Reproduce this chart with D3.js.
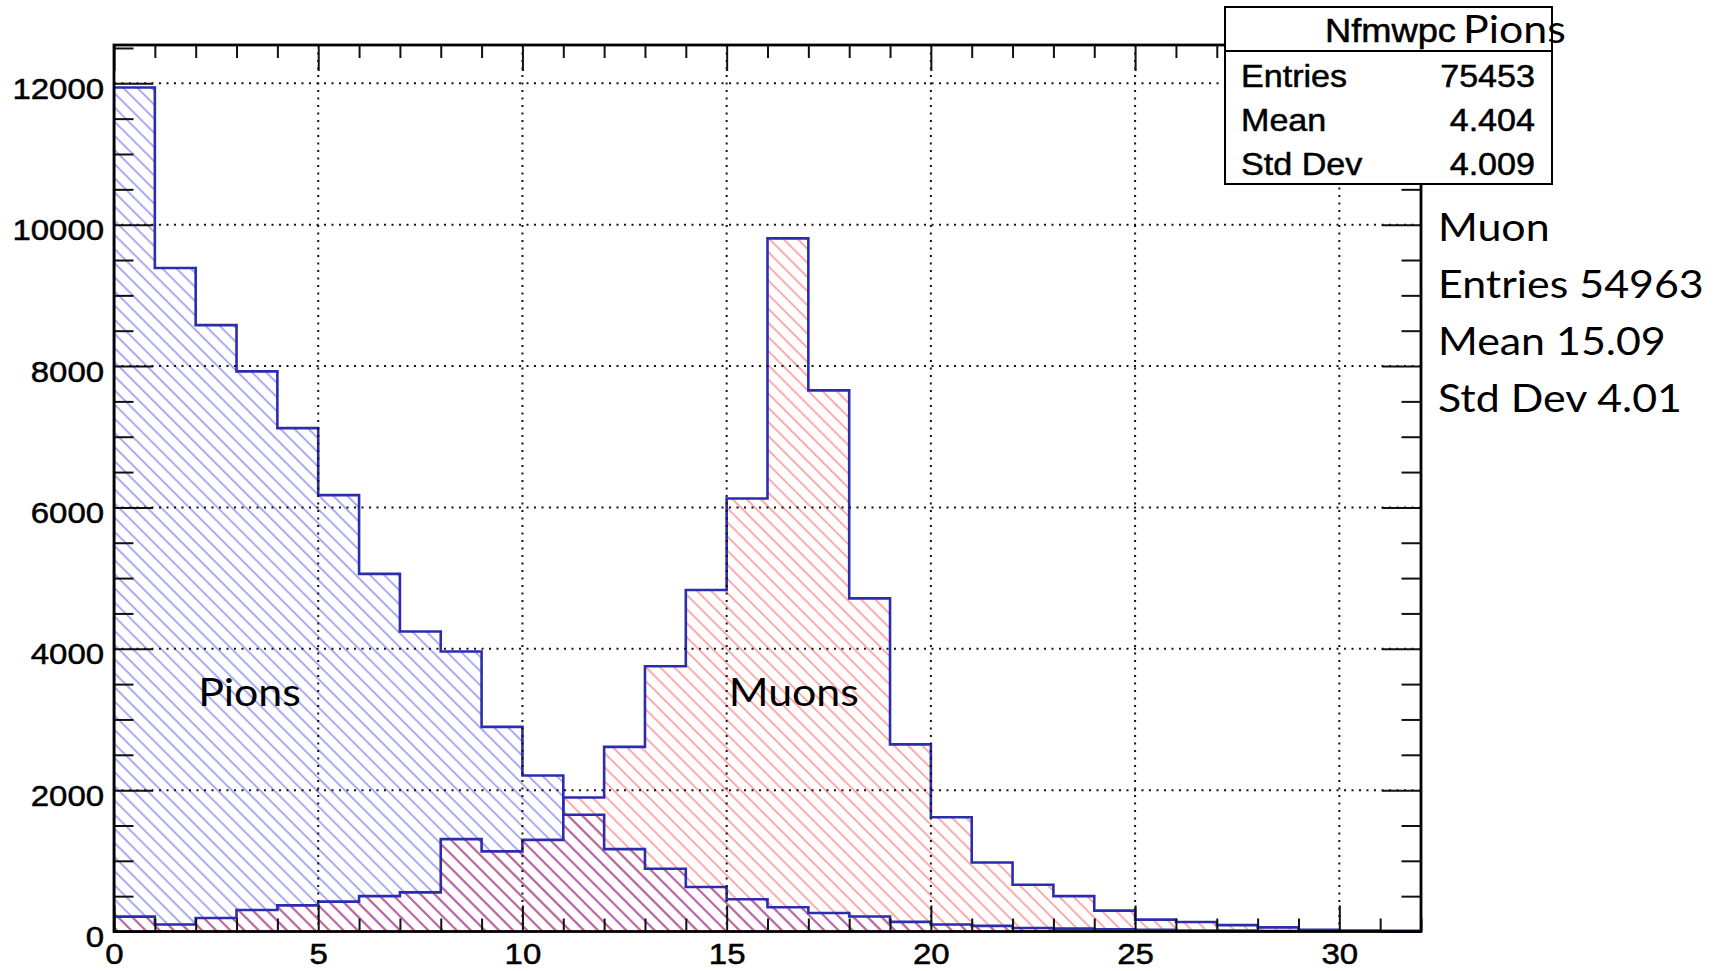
<!DOCTYPE html>
<html><head><meta charset="utf-8">
<script src="https://cdn.jsdelivr.net/npm/d3@7"></script>
<style>html,body{margin:0;padding:0;background:#fff;} svg{display:block}</style>
</head><body><svg id="chart" width="1716" height="971"></svg>
<script>
// ---------------- data ----------------
const binEdges = d3.range(0, 33); // 32 unit bins, 0..32
const pionCounts = [11940, 9386, 8579, 7924, 7122, 6174, 5060, 4245, 3962, 2895, 2207, 1652,
                    1165, 887, 630, 456, 344, 261, 212, 136, 100, 80, 50, 40, 30, 25, 15, 12, 8, 5, 3, 2];
const muonCounts = [211, 98, 192, 304, 370, 422, 501, 553, 1307, 1134, 1297, 1896,
                    2612, 3753, 4832, 6126, 9806, 7656, 4713, 2647, 1617, 977, 662, 500, 295, 168, 135, 90, 58, 25, 15, 10];
const xTickLabels = [0, 5, 10, 15, 20, 25, 30];
const yTickLabels = [0, 2000, 4000, 6000, 8000, 10000, 12000];
const statsTitle = ["Nfmwpc", "Pions"];
const pionStatNames = ["Entries", "Mean", "Std Dev"];
const pionStatValues = ["75453", "4.404", "4.009"];
const muonStatLines = ["Muon", "Entries 54963", "Mean 15.09", "Std Dev 4.01"];
const seriesLabels = ["Pions", "Muons"];

// ---------------- layout ----------------
const L = 114, R = 1421, T = 45, B = 931.5;
const svg = d3.select("#chart");
const x = d3.scaleLinear().domain([0, 32]).range([L, R]);
const y = d3.scaleLinear().domain([0, 12542]).range([B, T]);
const SX = 1.1; // horizontal text stretch of original image
const helv = "'Liberation Sans', Arial, Helvetica, sans-serif";
const cal = "Lato, 'Open Sans', sans-serif";

svg.append("rect").attr("width", 1716).attr("height", 971).attr("fill", "#fff");

const defs = svg.append("defs");
function hatch(id, color, w) {
  const p = defs.append("pattern").attr("id", id).attr("patternUnits", "userSpaceOnUse")
    .attr("width", 10).attr("height", 10).attr("patternTransform", "rotate(45)");
  p.append("line").attr("x1", -1).attr("y1", 5).attr("x2", 11).attr("y2", 5)
    .attr("stroke", color).attr("stroke-width", w);
}
hatch("hPion", "#a2a2f8", 1.8);
hatch("hMuon", "#ffa2a2", 1.8);
hatch("hBoth", "#b862a8", 1.8);
defs.append("clipPath").attr("id", "plotClip").append("rect")
  .attr("x", L).attr("y", T).attr("width", R - L).attr("height", B - T);

function stepPts(counts) {
  const pts = [{ x: binEdges[0], v: 0 }];
  counts.forEach((c, i) => pts.push({ x: binEdges[i], v: c }));
  pts.push({ x: binEdges[counts.length], v: counts[counts.length - 1] });
  pts.push({ x: binEdges[counts.length], v: 0 });
  return pts;
}
const area = d3.area().curve(d3.curveStepAfter).x(d => x(d.x)).y0(y(0)).y1(d => y(d.v));
const line = d3.line().curve(d3.curveStepAfter).x(d => x(d.x)).y(d => y(d.v));
const overlapCounts = pionCounts.map((p, i) => Math.min(p, muonCounts[i]));

const plot = svg.append("g").attr("clip-path", "url(#plotClip)");
plot.append("path").attr("d", area(stepPts(pionCounts))).attr("fill", "url(#hPion)");
plot.append("path").attr("d", area(stepPts(muonCounts))).attr("fill", "url(#hMuon)");
plot.append("path").attr("d", area(stepPts(overlapCounts))).attr("fill", "url(#hBoth)");

// grid
const grid = svg.append("g").attr("stroke", "#111").attr("stroke-width", 2).attr("stroke-dasharray", "2,5.5");
xTickLabels.filter(v => v > 0).forEach(v => grid.append("line").attr("x1", x(v)).attr("x2", x(v)).attr("y1", T).attr("y2", B));
yTickLabels.filter(v => v > 0).forEach(v => grid.append("line").attr("x1", L).attr("x2", R).attr("y1", y(v)).attr("y2", y(v)));

// outlines
[muonCounts, pionCounts].forEach(c => plot.append("path").attr("d", line(stepPts(c)))
  .attr("fill", "none").attr("stroke", "#2c2cae").attr("stroke-width", 2.6));

// axes
const xMinor = d3.range(0, 33).filter(v => v % 5 !== 0);
const yMinor = d3.range(0, 12542, 500).filter(v => v % 2000 !== 0);
function styleAxis(g) { g.select(".domain").remove(); g.selectAll(".tick line").attr("stroke", "#111").attr("stroke-width", 2); }

const xAxis = svg.append("g").attr("transform", `translate(0,${B})`)
  .call(d3.axisBottom(x).tickValues(xTickLabels).tickSizeInner(-26).tickSizeOuter(0).tickPadding(11).tickFormat(d3.format("d")));
svg.append("g").attr("transform", `translate(0,${B})`)
  .call(d3.axisBottom(x).tickValues(xMinor).tickSizeInner(-13).tickSizeOuter(0).tickFormat("")).call(styleAxis);
svg.append("g").attr("transform", `translate(0,${T})`)
  .call(d3.axisTop(x).tickValues(xTickLabels).tickSizeInner(-26).tickSizeOuter(0).tickFormat("")).call(styleAxis);
svg.append("g").attr("transform", `translate(0,${T})`)
  .call(d3.axisTop(x).tickValues(xMinor).tickSizeInner(-13).tickSizeOuter(0).tickFormat("")).call(styleAxis);
const yAxis = svg.append("g").attr("transform", `translate(${L},0)`)
  .call(d3.axisLeft(y).tickValues(yTickLabels).tickSizeInner(-39).tickSizeOuter(0).tickPadding(9).tickFormat(d3.format("d")));
svg.append("g").attr("transform", `translate(${L},0)`)
  .call(d3.axisLeft(y).tickValues(yMinor).tickSizeInner(-19.5).tickSizeOuter(0).tickFormat("")).call(styleAxis);
svg.append("g").attr("transform", `translate(${R},0)`)
  .call(d3.axisRight(y).tickValues(yTickLabels).tickSizeInner(-39).tickSizeOuter(0).tickFormat("")).call(styleAxis);
svg.append("g").attr("transform", `translate(${R},0)`)
  .call(d3.axisRight(y).tickValues(yMinor).tickSizeInner(-19.5).tickSizeOuter(0).tickFormat("")).call(styleAxis);
[xAxis, yAxis].forEach(styleAxis);
[xAxis, yAxis].forEach(g => g.selectAll("text").attr("font-family", helv).attr("font-size", 30).attr("fill", "#000")
  .attr("stroke", "#000").attr("stroke-width", 0.5).attr("transform", `scale(${SX},1)`));
yAxis.selectAll("text").attr("dy", "0.5em");

// frame
svg.append("rect").attr("x", L).attr("y", T).attr("width", R - L).attr("height", B - T)
  .attr("fill", "none").attr("stroke", "#000").attr("stroke-width", 2.8);

function txt(s, px, py, size, family, anchor) {
  const t = svg.append("text").attr("transform", `translate(${px},${py}) scale(${SX},1)`)
    .attr("font-family", family).attr("font-size", size).attr("text-anchor", anchor || "start")
    .attr("fill", "#000").text(s);
  if (family === helv) t.attr("stroke", "#000").attr("stroke-width", 0.5);
  return t;
}

// series labels
txt(seriesLabels[0], x(2.06), 706, 39, cal);
txt(seriesLabels[1], x(15.05), 706, 39, cal);

// stats box
svg.append("rect").attr("x", 1225).attr("y", 7).attr("width", 327).attr("height", 177)
  .attr("fill", "#fff").attr("stroke", "#000").attr("stroke-width", 2);
svg.append("line").attr("x1", 1225).attr("x2", 1552).attr("y1", 51).attr("y2", 51)
  .attr("stroke", "#000").attr("stroke-width", 2);
txt(statsTitle[0], 1456, 42, 33, helv, "end");
txt(statsTitle[1], 1463, 43, 39, cal);
pionStatNames.forEach((n, i) => {
  txt(n, 1241, 87 + i * 44, 31, helv);
  txt(pionStatValues[i], 1535, 87 + i * 44, 31, helv, "end");
});
muonStatLines.forEach((s, i) => txt(s, 1438, 241 + i * 57, 39, cal));
</script>
</body></html>
